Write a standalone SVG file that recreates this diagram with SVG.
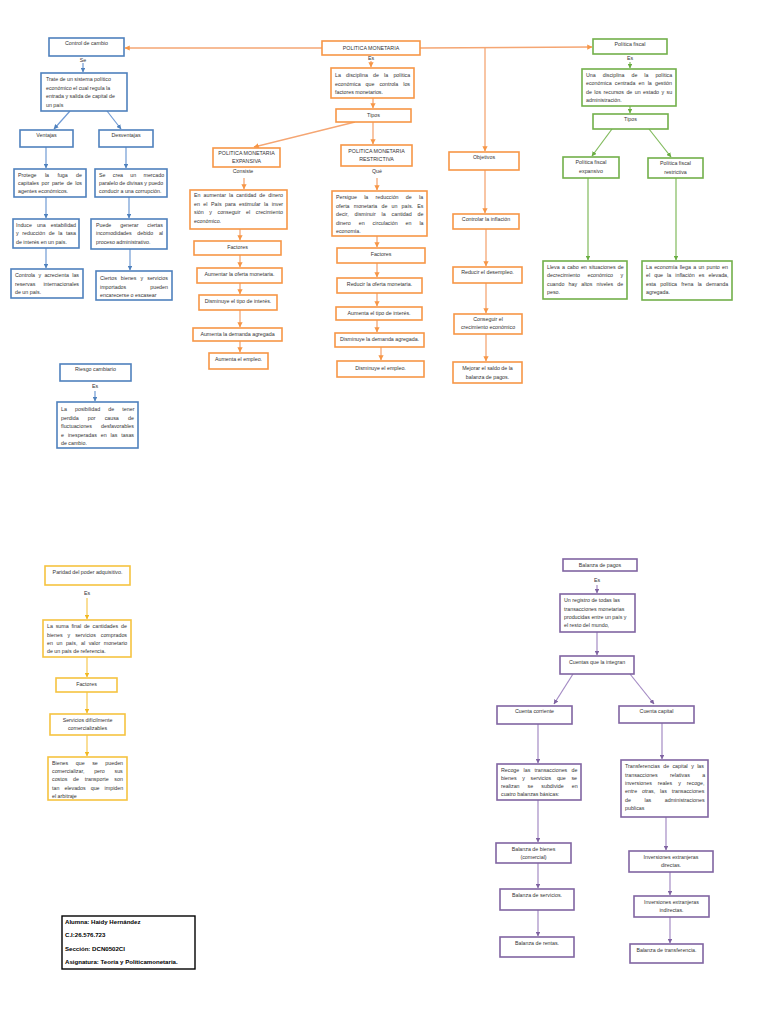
<svg xmlns="http://www.w3.org/2000/svg" width="768" height="1024" viewBox="0 0 768 1024">
<style>
.t{font-family:"Liberation Sans",Arial,sans-serif;font-size:5.3px;fill:#333}
.c{text-anchor:middle}
.bl rect{fill:#fff;stroke:#4F81BD;stroke-width:1.6}
.or rect{fill:#fff;stroke:#F79646;stroke-width:1.6}
.gr rect{fill:#fff;stroke:#72B04A;stroke-width:1.6}
.ye rect{fill:#fff;stroke:#F6C340;stroke-width:1.6}
.pu rect{fill:#fff;stroke:#8064A2;stroke-width:1.6}
.st rect{fill:#fff;stroke:#000;stroke-width:1.4}
.st text{font-family:"Liberation Sans",Arial,sans-serif;font-size:6.1px;fill:#000;font-weight:bold}
.lb{stroke:#6F9AD4;stroke-width:1.2;fill:none;marker-end:url(#mb)}
.lo{stroke:#F5A673;stroke-width:1.3;fill:none;marker-end:url(#mo)}
.lg{stroke:#80BA5C;stroke-width:1.2;fill:none;marker-end:url(#mg)}
.ly{stroke:#F6C850;stroke-width:1.2;fill:none;marker-end:url(#my)}
.lp{stroke:#A48BC4;stroke-width:1.2;fill:none;marker-end:url(#mp)}
</style>
<defs>
<marker id="mb" viewBox="0 0 6 6" refX="5.5" refY="3" markerWidth="4" markerHeight="4" orient="auto"><path d="M0,0 L6,3 L0,6 z" fill="#4F81BD"/></marker>
<marker id="mo" viewBox="0 0 6 6" refX="5.5" refY="3" markerWidth="4" markerHeight="4" orient="auto"><path d="M0,0 L6,3 L0,6 z" fill="#F79646"/></marker>
<marker id="mg" viewBox="0 0 6 6" refX="5.5" refY="3" markerWidth="4" markerHeight="4" orient="auto"><path d="M0,0 L6,3 L0,6 z" fill="#6AAE42"/></marker>
<marker id="my" viewBox="0 0 6 6" refX="5.5" refY="3" markerWidth="4" markerHeight="4" orient="auto"><path d="M0,0 L6,3 L0,6 z" fill="#F2B820"/></marker>
<marker id="mp" viewBox="0 0 6 6" refX="5.5" refY="3" markerWidth="4" markerHeight="4" orient="auto"><path d="M0,0 L6,3 L0,6 z" fill="#8064A2"/></marker>
</defs>
<rect width="768" height="1024" fill="#fff"/>

<g id="connectors">
<line class="lb" x1="83" y1="63" x2="83" y2="72"/>
<line class="lb" x1="70" y1="111" x2="54" y2="129"/>
<line class="lb" x1="107" y1="111" x2="121" y2="129"/>
<line class="lb" x1="46" y1="147" x2="46" y2="168"/>
<line class="lb" x1="126" y1="147" x2="126" y2="168"/>
<line class="lb" x1="46" y1="197" x2="46" y2="218"/>
<line class="lb" x1="129" y1="197" x2="129" y2="218"/>
<line class="lb" x1="46" y1="248" x2="46" y2="268"/>
<line class="lb" x1="130" y1="249" x2="130" y2="270"/>
<line class="lb" x1="95" y1="391" x2="95" y2="401"/>
<line class="lo" x1="322" y1="48" x2="125" y2="48"/>
<line class="lo" x1="420" y1="48" x2="592" y2="47"/>
<line class="lo" x1="485" y1="48" x2="485" y2="151"/>
<line class="lo" x1="371" y1="61" x2="371" y2="67"/>
<line class="lo" x1="373" y1="98" x2="373" y2="108"/>
<line class="lo" x1="355" y1="122" x2="254" y2="147"/>
<line class="lo" x1="373" y1="122" x2="373" y2="144"/>
<line class="lo" x1="244" y1="178" x2="244" y2="189"/>
<line class="lo" x1="240" y1="229" x2="240" y2="240"/>
<line class="lo" x1="240" y1="255" x2="240" y2="267"/>
<line class="lo" x1="240" y1="283" x2="240" y2="294"/>
<line class="lo" x1="240" y1="310" x2="240" y2="327"/>
<line class="lo" x1="240" y1="341" x2="240" y2="352"/>
<line class="lo" x1="377" y1="178" x2="377" y2="190"/>
<line class="lo" x1="377" y1="236" x2="377" y2="247"/>
<line class="lo" x1="377" y1="263" x2="377" y2="277"/>
<line class="lo" x1="377" y1="293" x2="377" y2="306"/>
<line class="lo" x1="377" y1="320" x2="377" y2="332"/>
<line class="lo" x1="381" y1="347" x2="381" y2="360"/>
<line class="lo" x1="485" y1="170" x2="485" y2="213"/>
<line class="lo" x1="486" y1="229" x2="486" y2="266"/>
<line class="lo" x1="486" y1="283" x2="486" y2="313"/>
<line class="lo" x1="486" y1="334" x2="486" y2="361"/>
<line class="lg" x1="630" y1="62" x2="630" y2="68"/>
<line class="lg" x1="630" y1="106" x2="630" y2="113"/>
<line class="lg" x1="612" y1="129" x2="592" y2="156"/>
<line class="lg" x1="649" y1="129" x2="671" y2="157"/>
<line class="lg" x1="588" y1="178" x2="588" y2="260"/>
<line class="lg" x1="676" y1="178" x2="676" y2="260"/>
<line class="ly" x1="87" y1="598" x2="87" y2="619"/>
<line class="ly" x1="87" y1="657" x2="87" y2="677"/>
<line class="ly" x1="87" y1="692" x2="87" y2="713"/>
<line class="ly" x1="87" y1="735" x2="87" y2="756"/>
<line class="lp" x1="597" y1="585" x2="597" y2="593"/>
<line class="lp" x1="597" y1="632" x2="597" y2="655"/>
<line class="lp" x1="573" y1="674" x2="554" y2="704"/>
<line class="lp" x1="630" y1="674" x2="654" y2="704"/>
<line class="lp" x1="538" y1="724" x2="538" y2="763"/>
<line class="lp" x1="538" y1="800" x2="538" y2="842"/>
<line class="lp" x1="538" y1="863" x2="538" y2="888"/>
<line class="lp" x1="538" y1="910" x2="538" y2="936"/>
<line class="lp" x1="662" y1="723" x2="662" y2="759"/>
<line class="lp" x1="666" y1="817" x2="666" y2="850"/>
<line class="lp" x1="670" y1="872" x2="670" y2="895"/>
<line class="lp" x1="670" y1="917" x2="670" y2="943"/>
<text class="t c" x="83" y="62">Se</text>
<text class="t c" x="95" y="388">Es</text>
<text class="t c" x="371" y="60">Es</text>
<text class="t c" x="243" y="173">Consiste</text>
<text class="t c" x="377" y="173">Qué</text>
<text class="t c" x="630" y="60">Es</text>
<text class="t c" x="87" y="595">Es</text>
<text class="t c" x="597" y="582">Es</text>
</g>

<g id="control-cambio" class="bl"><rect x="49" y="38" width="75" height="18"/><text class="t c" x="86.5" y="45">Control de cambio</text></g>
<g id="trate" class="bl"><rect x="41" y="73" width="86" height="38"/>
<text class="t" x="46" y="81">Trate de un sistema político</text>
<text class="t" x="46" y="89.5">económico el cual regula la</text>
<text class="t" x="46" y="98">entrada y salida de capital de</text>
<text class="t" x="46" y="106.5">un país</text></g>
<g id="ventajas" class="bl"><rect x="20" y="130" width="53" height="17"/><text class="t c" x="46.5" y="137">Ventajas</text></g>
<g id="desventajas" class="bl"><rect x="99" y="130" width="54" height="17"/><text class="t c" x="126" y="137">Desventajas</text></g>
<g id="protege" class="bl"><rect x="14" y="169" width="72" height="28"/>
<text class="t" x="18" y="177" word-spacing="6.9">Protege la fuga de</text>
<text class="t" x="18" y="185" word-spacing="1.2">capitales por parte de los</text>
<text class="t" x="18" y="193">agentes económicos.</text></g>
<g id="se-crea" class="bl"><rect x="95" y="169" width="72" height="28"/>
<text class="t" x="99" y="177" word-spacing="5.8">Se crea un mercado</text>
<text class="t" x="99" y="185">paralelo de divisas y puedo</text>
<text class="t" x="99" y="193">conducir a una corrupción.</text></g>
<g id="induce" class="bl"><rect x="13" y="219" width="66" height="29"/>
<text class="t" x="16" y="227" word-spacing="3.5">Induce una estabilidad</text>
<text class="t" x="16" y="235" word-spacing="2.1">y reducción de la tasa</text>
<text class="t" x="16" y="244">de interés en un país.</text></g>
<g id="puede" class="bl"><rect x="91" y="219" width="76" height="30"/>
<text class="t" x="96" y="227" word-spacing="7.4">Puede generar ciertas</text>
<text class="t" x="96" y="235" word-spacing="4.2">incomodidades debido al</text>
<text class="t" x="96" y="244">proceso administrativo.</text></g>
<g id="controla" class="bl"><rect x="11" y="269" width="72" height="29"/>
<text class="t" x="15" y="277" word-spacing="1.9">Controla y acrecienta las</text>
<text class="t" x="15" y="286" word-spacing="6.6">reservas internacionales</text>
<text class="t" x="15" y="294">de un país.</text></g>
<g id="ciertos" class="bl"><rect x="96" y="271" width="76" height="29"/>
<text class="t" x="100" y="280" word-spacing="2.6">Ciertos bienes y servicios</text>
<text class="t" x="100" y="289" word-spacing="22.6">importados pueden</text>
<text class="t" x="100" y="297">encarecerse o escasear</text></g>
<g id="riesgo" class="bl"><rect x="60" y="364" width="71" height="17"/><text class="t c" x="95.5" y="371">Riesgo cambiario</text></g>
<g id="posibilidad" class="bl"><rect x="57" y="402" width="81" height="46"/>
<text class="t" x="61" y="411" word-spacing="6.7">La posibilidad de tener</text>
<text class="t" x="61" y="419.5" word-spacing="7.7">perdida por causa de</text>
<text class="t" x="61" y="428" word-spacing="7.6">fluctuaciones desfavorables</text>
<text class="t" x="61" y="436.5" word-spacing="2.5">e inesperadas en las tasas</text>
<text class="t" x="61" y="445">de cambio.</text></g>

<g id="politica-monetaria" class="or"><rect x="322" y="41" width="98" height="14"/><text class="t c" x="371" y="49.5">POLITICA MONETARIA</text></g>
<g id="disciplina-pm" class="or"><rect x="331" y="68" width="83" height="30"/>
<text class="t" x="335" y="77" word-spacing="3.7">La disciplina de la política</text>
<text class="t" x="335" y="85.5" word-spacing="3.5">económica que controla los</text>
<text class="t" x="335" y="94">factores monetarios.</text></g>
<g id="tipos-pm" class="or"><rect x="336" y="109" width="75" height="13"/><text class="t c" x="373.5" y="117">Tipos</text></g>
<g id="pm-expansiva" class="or"><rect x="213" y="148" width="67" height="19"/>
<text class="t c" x="246.5" y="155">POLITICA MONETARIA</text><text class="t c" x="246.5" y="163">EXPANSIVA</text></g>
<g id="pm-restrictiva" class="or"><rect x="341" y="145" width="71" height="21"/>
<text class="t c" x="376.5" y="152.5">POLITICA MONETARIA</text><text class="t c" x="376.5" y="160.5">RESTRICTIVA</text></g>
<g id="en-aumentar" class="or"><rect x="190" y="190" width="97" height="39"/>
<text class="t" x="194" y="197" word-spacing="1.6">En aumentar la cantidad de dinero</text>
<text class="t" x="194" y="205.5" word-spacing="2">en el País para estimular la inver</text>
<text class="t" x="194" y="214" word-spacing="4.1">sión y conseguir el crecimiento</text>
<text class="t" x="194" y="222.5">económico.</text></g>
<g id="factores-exp" class="or"><rect x="194" y="241" width="87" height="14"/><text class="t c" x="237.5" y="249">Factores</text></g>
<g id="aumentar-oferta" class="or"><rect x="197" y="268" width="85" height="15"/><text class="t c" x="239.5" y="276">Aumentar la oferta monetaria.</text></g>
<g id="disminuye-tipo" class="or"><rect x="199" y="295" width="78" height="15"/><text class="t c" x="238" y="303">Disminuye el tipo de interés.</text></g>
<g id="aumenta-demanda" class="or"><rect x="193" y="328" width="89" height="13"/><text class="t c" x="237.5" y="336">Aumenta la demanda agregada</text></g>
<g id="aumenta-empleo" class="or"><rect x="209" y="353" width="59" height="16"/><text class="t c" x="238.5" y="361">Aumenta el empleo.</text></g>
<g id="persigue" class="or"><rect x="332" y="191" width="95" height="45"/>
<text class="t" x="336" y="199" word-spacing="5.8">Persigue la reducción de la</text>
<text class="t" x="336" y="207.5" word-spacing="2.7">oferta monetaria de un país. Es</text>
<text class="t" x="336" y="216" word-spacing="4.4">decir, disminuir la cantidad de</text>
<text class="t" x="336" y="224.5" word-spacing="6.5">dinero en circulación en la</text>
<text class="t" x="336" y="233">economía.</text></g>
<g id="factores-res" class="or"><rect x="337" y="248" width="88" height="15"/><text class="t c" x="381" y="256">Factores</text></g>
<g id="reducir-oferta" class="or"><rect x="337" y="278" width="85" height="15"/><text class="t c" x="379.5" y="286">Reducir la oferta monetaria.</text></g>
<g id="aumenta-tipo" class="or"><rect x="336" y="307" width="86" height="13"/><text class="t c" x="379" y="315">Aumenta el tipo de interés.</text></g>
<g id="disminuye-demanda" class="or"><rect x="335" y="333" width="89" height="14"/><text class="t c" x="379.5" y="341">Disminuye la demanda agregada.</text></g>
<g id="disminuye-empleo" class="or"><rect x="337" y="361" width="87" height="16"/><text class="t c" x="380.5" y="370">Disminuye el empleo.</text></g>
<g id="objetivos" class="or"><rect x="449" y="152" width="70" height="18"/><text class="t c" x="484" y="159">Objetivos</text></g>
<g id="controlar-inflacion" class="or"><rect x="453" y="214" width="66" height="15"/><text class="t c" x="486" y="221">Controlar la inflación</text></g>
<g id="reducir-desempleo" class="or"><rect x="453" y="267" width="69" height="16"/><text class="t c" x="487.5" y="274">Reducir el desempleo.</text></g>
<g id="conseguir" class="or"><rect x="454" y="314" width="68" height="20"/><text class="t c" x="488" y="321">Conseguir el</text><text class="t c" x="488" y="329">crecimiento económico</text></g>
<g id="mejorar" class="or"><rect x="453" y="362" width="69" height="21"/><text class="t c" x="487.5" y="370">Mejorar el saldo de la</text><text class="t c" x="487.5" y="378.5">balanza de pagos.</text></g>

<g id="politica-fiscal" class="gr"><rect x="593" y="39" width="74" height="15"/><text class="t c" x="630" y="46">Política fiscal</text></g>
<g id="disciplina-pf" class="gr"><rect x="582" y="69" width="94" height="37"/>
<text class="t" x="586" y="77" word-spacing="5.5">Una disciplina de la política</text>
<text class="t" x="586" y="85" word-spacing="1.7">económica centrada en la gestión</text>
<text class="t" x="586" y="93.5" word-spacing="1">de los recursos de un estado y su</text>
<text class="t" x="586" y="101.5">administración.</text></g>
<g id="tipos-pf" class="gr"><rect x="593" y="114" width="75" height="15"/><text class="t c" x="630.5" y="121">Tipos</text></g>
<g id="pf-expansivo" class="gr"><rect x="563" y="157" width="56" height="21"/><text class="t c" x="591" y="164">Política fiscal</text><text class="t c" x="591" y="172.5">expansivo</text></g>
<g id="pf-restrictiva" class="gr"><rect x="648" y="158" width="55" height="20"/><text class="t c" x="675.5" y="165">Política fiscal</text><text class="t c" x="675.5" y="173.5">restrictiva</text></g>
<g id="lleva" class="gr"><rect x="543" y="261" width="84" height="38"/>
<text class="t" x="547" y="268.5" word-spacing="0.8">Lleva a cabo en situaciones de</text>
<text class="t" x="547" y="277" word-spacing="6">decrecimiento económico y</text>
<text class="t" x="547" y="285.5" word-spacing="2.7">cuando hay altos niveles de</text>
<text class="t" x="547" y="293.5">peso.</text></g>
<g id="economia" class="gr"><rect x="642" y="261" width="90" height="39"/>
<text class="t" x="646" y="268.5" word-spacing="0.8">La economía llega a un punto en</text>
<text class="t" x="646" y="277" word-spacing="2.6">el que la inflación es elevada,</text>
<text class="t" x="646" y="285.5" word-spacing="2.8">esta política frena la demanda</text>
<text class="t" x="646" y="293.5">agregada.</text></g>

<g id="paridad" class="ye"><rect x="45" y="566" width="85" height="19"/><text class="t c" x="87.5" y="574">Paridad del poder adquisitivo.</text></g>
<g id="suma" class="ye"><rect x="43" y="620" width="88" height="37"/>
<text class="t" x="47" y="628" word-spacing="1.3">La suma final de cantidades de</text>
<text class="t" x="47" y="636.5" word-spacing="3.5">bienes y servicios comprados</text>
<text class="t" x="47" y="645" word-spacing="2.1">en un país, al valor monetario</text>
<text class="t" x="47" y="653">de un país de referencia.</text></g>
<g id="factores-ppa" class="ye"><rect x="56" y="678" width="61" height="14"/><text class="t c" x="86.5" y="686">Factores</text></g>
<g id="servicios" class="ye"><rect x="50" y="714" width="75" height="21"/><text class="t c" x="87.5" y="721.5">Servicios difícilmente</text><text class="t c" x="87.5" y="730">comercializables</text></g>
<g id="bienes" class="ye"><rect x="48" y="757" width="79" height="43"/>
<text class="t" x="52" y="764.5" word-spacing="6.1">Bienes que se pueden</text>
<text class="t" x="52" y="773" word-spacing="8.3">comercializar, pero sus</text>
<text class="t" x="52" y="781" word-spacing="4.3">costos de transporte son</text>
<text class="t" x="52" y="789.5" word-spacing="3.6">tan elevados que impiden</text>
<text class="t" x="52" y="797.5">el arbitraje</text></g>

<g id="balanza-pagos" class="pu"><rect x="563" y="559" width="74" height="12"/><text class="t c" x="600" y="566.5">Balanza de pagos</text></g>
<g id="registro" class="pu"><rect x="560" y="594" width="75" height="38"/>
<text class="t" x="564" y="602">Un registro de todas las</text>
<text class="t" x="564" y="610.5">transacciones monetarias</text>
<text class="t" x="564" y="619">producidas entre un país y</text>
<text class="t" x="564" y="627">el resto del mundo,</text></g>
<g id="cuentas" class="pu"><rect x="560" y="656" width="74" height="18"/><text class="t c" x="597" y="664">Cuentas que la integran</text></g>
<g id="cuenta-corriente" class="pu"><rect x="497" y="706" width="75" height="18"/><text class="t c" x="534.5" y="713">Cuenta corriente</text></g>
<g id="cuenta-capital" class="pu"><rect x="619" y="706" width="75" height="17"/><text class="t c" x="656.5" y="713">Cuenta capital</text></g>
<g id="recoge" class="pu"><rect x="497" y="764" width="84" height="36"/>
<text class="t" x="501" y="772" word-spacing="2.8">Recoge las transacciones de</text>
<text class="t" x="501" y="780" word-spacing="4.2">bienes y servicios que se</text>
<text class="t" x="501" y="788" word-spacing="6.6">realizan se subdivide en</text>
<text class="t" x="501" y="796">cuatro balanzas básicas:</text></g>
<g id="balanza-bienes" class="pu"><rect x="496" y="843" width="75" height="20"/><text class="t c" x="533.5" y="850.5">Balanza de bienes</text><text class="t c" x="533.5" y="859">(comercial)</text></g>
<g id="balanza-servicios" class="pu"><rect x="500" y="889" width="74" height="21"/><text class="t c" x="537" y="896.5">Balanza de servicios.</text></g>
<g id="balanza-rentas" class="pu"><rect x="500" y="937" width="74" height="20"/><text class="t c" x="537" y="944.5">Balanza de rentas.</text></g>
<g id="transferencias" class="pu"><rect x="621" y="760" width="87" height="57"/>
<text class="t" x="625" y="768" word-spacing="1.9">Transferencias de capital y las</text>
<text class="t" x="625" y="776.5" word-spacing="10.9">transacciones relativas a</text>
<text class="t" x="625" y="785" word-spacing="4.5">inversiones reales y recoge,</text>
<text class="t" x="625" y="793" word-spacing="3.4">entre otras, las transacciones</text>
<text class="t" x="625" y="801.5" word-spacing="12.1">de las administraciones</text>
<text class="t" x="625" y="810">publicas</text></g>
<g id="inversiones-directas" class="pu"><rect x="629" y="851" width="84" height="21"/><text class="t c" x="671" y="858.5">Inversiones extranjeras</text><text class="t c" x="671" y="867">directas.</text></g>
<g id="inversiones-indirectas" class="pu"><rect x="634" y="896" width="75" height="21"/><text class="t c" x="671.5" y="903.5">Inversiones extranjeras</text><text class="t c" x="671.5" y="912">indirectas.</text></g>
<g id="balanza-transferencia" class="pu"><rect x="630" y="944" width="73" height="19"/><text class="t c" x="666.5" y="951.5">Balanza de transferencia.</text></g>

<g id="alumna" class="st"><rect x="62" y="916" width="133" height="53"/>
<text x="65" y="923.5">Alumna: Haidy Hernández</text>
<text x="65" y="937">C.I:26.576.723</text>
<text x="65" y="950.5">Sección: DCN0502CI</text>
<text x="65" y="964">Asignatura: Teoría y Políticamonetaria.</text></g>
</svg>
